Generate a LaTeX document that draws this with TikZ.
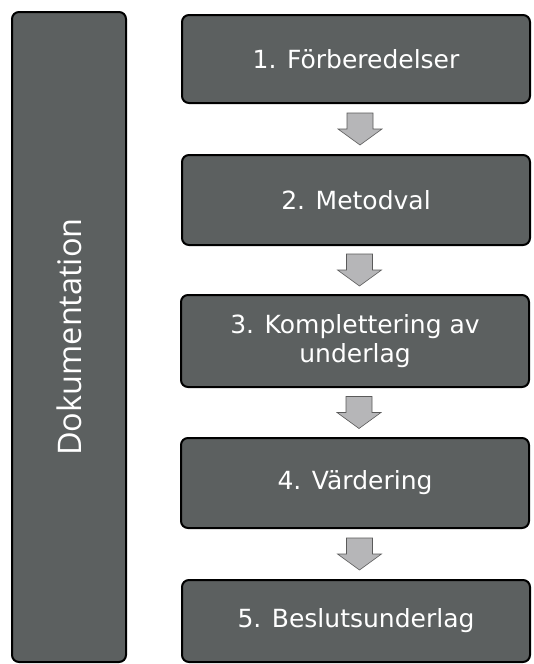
\documentclass[tikz,border=0pt]{standalone}
\usepackage{fontspec}
\setmainfont{DejaVu Sans}
\newfontfamily\dokfont{Open Sans}
\usetikzlibrary{calc}
\definecolor{boxgray}{RGB}{92,96,96}
\definecolor{arrgray}{RGB}{182,182,184}
\definecolor{arredge}{RGB}{90,90,90}
\begin{document}
\begin{tikzpicture}[x=1pt,y=-1pt,
  box/.style={draw=black, line width=2pt, fill=boxgray, rounded corners=7pt,
    text=white, font=\fontsize{25}{29}\selectfont, align=center, inner sep=0pt,
    minimum width=348pt},
  flowarrow/.style={fill=arrgray, draw=arredge, line width=0.6pt, line join=miter}]
\useasboundingbox (0,0) rectangle (534,664);
\fill[white] (0,0) rectangle (534,664);

\node[box, rotate=90, minimum width=650pt, minimum height=114pt,
  font=\dokfont\fontsize{32.5}{38}\selectfont] (dok) at (69,337) {Dokumentation};

\node[box, minimum height=88pt] (b1) at (356,59) {1. Förberedelser};
\node[box, minimum height=90pt] (b2) at (356,200) {2. Metodval};
\node[box, minimum height=92pt] (b3) at (355,341) {3. Komplettering av\\underlag};
\node[box, minimum height=90pt] (b4) at (355,483) {4. Värdering};
\node[box, minimum height=82pt] (b5) at (356,621) {5. Beslutsunderlag};

\foreach \a/\b/\n in {b1/b2/1, b2/b3/2, b3/b4/3, b4/b5/4}{
  \coordinate (m\n) at ($($(\a.south)!0.5!(\b.north)$)+(4,0)$);
  \path[flowarrow] (m\n) ++(-13,-16) -- ++(26,0) -- ++(0,16) -- ++(9,0)
     -- ++(-22,16) -- ++(-22,-16) -- ++(9,0) -- cycle;
}
\end{tikzpicture}
\end{document}
